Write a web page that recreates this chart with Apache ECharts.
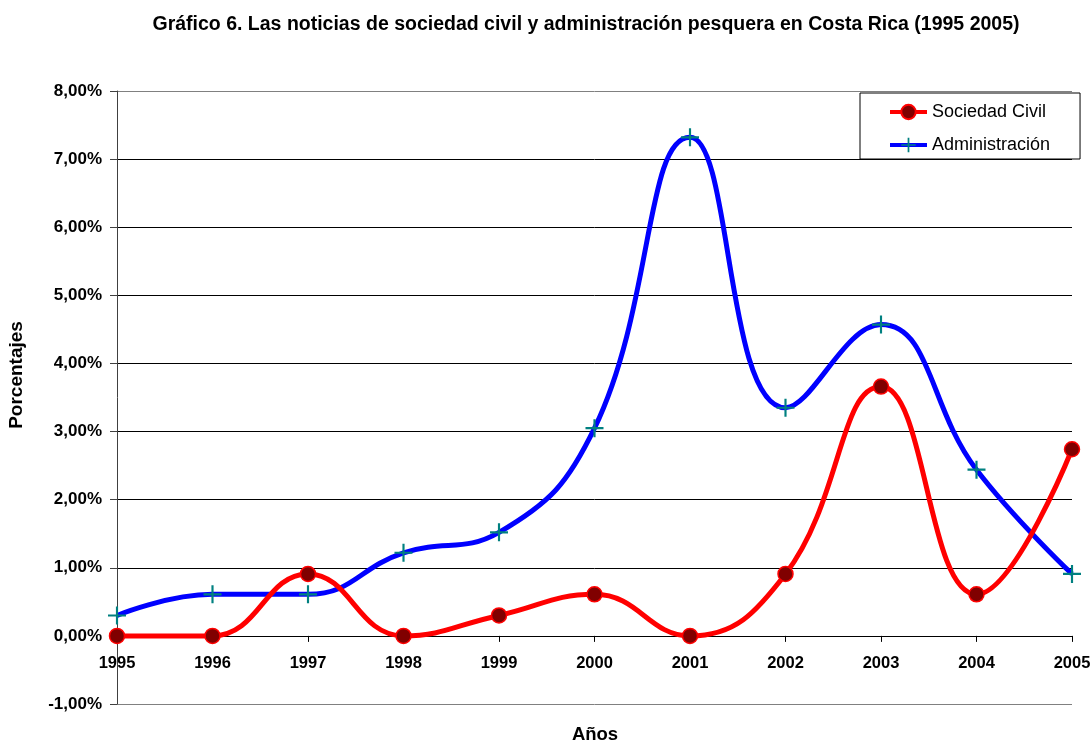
<!DOCTYPE html>
<html>
<head>
<meta charset="utf-8">
<script src="https://cdn.jsdelivr.net/npm/echarts@6/dist/echarts.min.js"></script>
<style>html,body{margin:0;padding:0;background:#fff;}#c{width:1091px;height:742px;}</style>
</head>
<body>
<div id="c"></div>
<script>
var years = ['1995','1996','1997','1998','1999','2000','2001','2002','2003','2004','2005'];
var sociedadCivil = [0, 0, 0.91, 0, 0.30, 0.61, 0, 0.91, 3.66, 0.61, 2.74];
var administracion = [0.30, 0.61, 0.61, 1.22, 1.52, 3.05, 7.32, 3.35, 4.57, 2.44, 0.91];

var FONT = '"Liberation Sans", Arial, sans-serif';
var plus = 'path://M4.4,0H5.6V4.4H10V5.6H5.6V10H4.4V5.6H0V4.4H4.4Z';
var gridColors = ['#808080','#000','#000','#000','#000','#000','#000','#000','#000','#808080'];
var chart = echarts.init(document.getElementById('c'));
chart.setOption({
  backgroundColor: '#fff',
  animation: false,
  legend: {
    left: 860, top: 93, orient: 'vertical',
    padding: [10, 30, 5, 28],
    itemGap: 15,
    itemWidth: 37, itemHeight: 18,
    borderColor: '#000', borderWidth: 1,
    lineStyle: {width: 4},
    textStyle: {fontFamily: FONT, fontSize: 18, color: '#000'},
    data: ['Sociedad Civil', 'Administración']
  },
  grid: {left: 117, right: 19, top: 91, bottom: 38, outerBoundsMode: 'none', containLabel: false},
  xAxis: {
    type: 'category', data: years, boundaryGap: false,
    axisLine: {onZero: true, onZeroAxisIndex: 0, lineStyle: {color: '#000', width: 1}},
    axisTick: {show: true, length: 6, alignWithLabel: true, lineStyle: {color: '#000'}},
    axisLabel: {fontFamily: FONT, fontSize: 16.5, fontWeight: 'bold', color: '#000', margin: -49, interval: 0},
    splitLine: {show: false}
  },
  yAxis: {
    type: 'value', min: -1, max: 8, interval: 1,
    axisLine: {show: true, lineStyle: {color: '#404040'}},
    axisTick: {show: true, length: 7, lineStyle: {color: '#404040'}},
    axisLabel: {fontFamily: FONT, fontSize: 17, fontWeight: 'bold', color: '#000', margin: 15,
      formatter: function (v) { return v.toFixed(2).replace('.', ',') + '%'; }},
    splitLine: {show: true, lineStyle: {color: gridColors, width: 1}}
  },
  graphic: [
    {type: 'text', x: 586, y: 25,
      style: {text: 'Gráfico 6. Las noticias de sociedad civil y administración pesquera en Costa Rica (1995 2005)',
        font: 'bold 19.5px ' + FONT, fill: '#000', align: 'center', verticalAlign: 'middle'}},
    {type: 'text', x: 17, y: 375, rotation: Math.PI / 2,
      style: {text: 'Porcentajes', font: 'bold 19px ' + FONT, fill: '#000', align: 'center', verticalAlign: 'middle'}},
    {type: 'text', x: 595, y: 735,
      style: {text: 'Años', font: 'bold 18.5px ' + FONT, fill: '#000', align: 'center', verticalAlign: 'middle'}}
  ],
  series: [
    {
      name: 'Sociedad Civil', type: 'line', data: sociedadCivil, smooth: 0.45,
      lineStyle: {color: '#ff0000', width: 5},
      itemStyle: {color: '#800000', borderColor: '#ff0000', borderWidth: 1.5},
      symbol: 'circle', symbolSize: 15, z: 3
    },
    {
      name: 'Administración', type: 'line', data: administracion, smooth: 0.45,
      lineStyle: {color: '#0000ff', width: 5},
      itemStyle: {color: '#008080'},
      symbol: plus, symbolSize: 18, z: 2
    }
  ]
});
</script>
</body>
</html>
